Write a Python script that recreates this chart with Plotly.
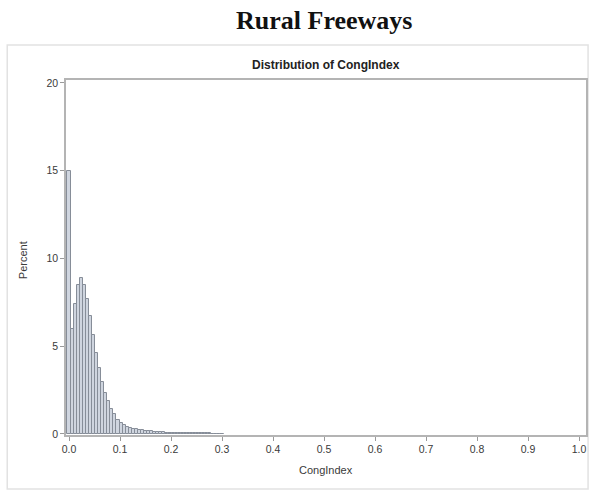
import plotly.graph_objects as go

# Histogram of CongIndex for rural freeways (percent of observations per bin)
bin_width = 0.006
percent = [
    15.0, 6.0, 7.4, 8.5, 8.9, 8.5, 7.7, 6.7, 5.65, 4.6,
    3.75, 2.95, 2.35, 1.85, 1.45, 1.12, 0.8, 0.62, 0.5, 0.42,
    0.36, 0.31, 0.27, 0.24, 0.21, 0.19, 0.17, 0.15, 0.13, 0.12,
    0.11, 0.09, 0.08, 0.07, 0.06, 0.055, 0.05, 0.048, 0.045, 0.042,
    0.04, 0.038, 0.035, 0.033, 0.03, 0.028, 0.026, 0.025, 0.023, 0.022,
    0.02,
]
midpoints = [round(i * bin_width, 4) for i in range(len(percent))]

x_ticks = [0.0, 0.1, 0.2, 0.3, 0.4, 0.5, 0.6, 0.7, 0.8, 0.9, 1.0]
y_ticks = [0, 5, 10, 15, 20]

fig = go.Figure()
fig.add_trace(go.Bar(
    x=midpoints,
    y=percent,
    width=bin_width,
    marker=dict(color="#cfd5df", line=dict(color="#868d98", width=1)),
    showlegend=False,
    hoverinfo="x+y",
))

tick_font = dict(family="Liberation Sans, Arial, sans-serif", size=10.5, color="#3a3a3a")

fig.update_layout(
    width=593,
    height=491,
    margin=dict(l=66, r=5, t=80, b=56),
    paper_bgcolor="white",
    plot_bgcolor="white",
    bargap=0,
    xaxis=dict(
        range=[-0.0059, 1.0137],
        tickvals=x_ticks,
        tickformat=".1f",
        ticks="outside",
        ticklen=4,
        tickcolor="#9a9a9a",
        tickfont=tick_font,
        showgrid=False,
        zeroline=False,
        showline=True,
        linecolor="#b4b4b4",
        linewidth=1.5,
        mirror=True,
    ),
    yaxis=dict(
        range=[-0.06, 20.17],
        tickvals=y_ticks,
        ticks="outside",
        ticklen=4,
        tickcolor="#9a9a9a",
        tickfont=tick_font,
        showgrid=False,
        zeroline=False,
        showline=True,
        linecolor="#b4b4b4",
        linewidth=1.5,
        mirror=True,
    ),
    annotations=[
        dict(text="<b>Rural Freeways</b>", xref="paper", yref="paper",
             x=0.496, y=1.169, xanchor="center", yanchor="middle", showarrow=False,
             font=dict(family="Liberation Serif, Times New Roman, serif", size=26, color="#111")),
        dict(text="<b>Distribution of CongIndex</b>", xref="paper", yref="paper",
             x=0.5, y=1.042, xanchor="center", yanchor="middle", showarrow=False,
             font=dict(family="Liberation Sans, Arial, sans-serif", size=12, color="#222")),
        dict(text="CongIndex", xref="paper", yref="paper",
             x=0.5, y=-0.0986, xanchor="center", yanchor="middle", showarrow=False,
             font=dict(family="Liberation Sans, Arial, sans-serif", size=11, color="#3a3a3a")),
        dict(text="Percent", xref="paper", yref="paper", textangle=-90,
             x=-0.0824, y=0.493, xanchor="center", yanchor="middle", showarrow=False,
             font=dict(family="Liberation Sans, Arial, sans-serif", size=11, color="#3a3a3a")),
    ],
    shapes=[
        dict(type="rect", xref="paper", yref="paper",
             x0=-0.113, x1=1.004, y0=-0.152, y1=1.0986,
             line=dict(color="#e2e2e2", width=1.5), fillcolor="rgba(0,0,0,0)", layer="below"),
    ],
)

fig.write_html("out.html")
